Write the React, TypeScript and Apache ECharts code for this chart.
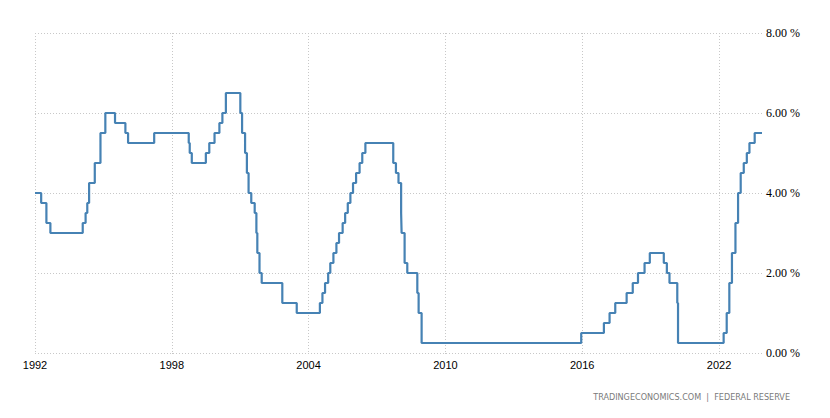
import React, { useEffect, useRef } from "react";
import * as echarts from "echarts";

// Federal funds target rate (upper bound), change dates and values (%)
const changeDates: string[] = [
  "1992-01-01", "1992-04-09", "1992-07-02", "1992-09-04",
  "1994-02-04", "1994-03-22", "1994-04-18", "1994-05-17", "1994-08-16", "1994-11-15",
  "1995-02-01", "1995-07-06", "1995-12-19", "1996-01-31", "1997-03-25",
  "1998-09-29", "1998-10-15", "1998-11-17",
  "1999-06-30", "1999-08-24", "1999-11-16",
  "2000-02-02", "2000-03-21", "2000-05-16",
  "2001-01-03", "2001-01-31", "2001-03-20", "2001-04-18", "2001-05-15", "2001-06-27",
  "2001-08-21", "2001-09-17", "2001-10-02", "2001-11-06", "2001-12-11",
  "2002-11-06", "2003-06-25",
  "2004-06-30", "2004-08-10", "2004-09-21", "2004-11-10", "2004-12-14",
  "2005-02-02", "2005-03-22", "2005-05-03", "2005-06-30", "2005-08-09", "2005-09-20",
  "2005-11-01", "2005-12-13",
  "2006-01-31", "2006-03-28", "2006-05-10", "2006-06-29",
  "2007-09-18", "2007-10-31", "2007-12-11",
  "2008-01-22", "2008-01-30", "2008-03-18", "2008-04-30", "2008-10-08", "2008-10-29", "2008-12-16",
  "2015-12-16", "2016-12-14",
  "2017-03-15", "2017-06-14", "2017-12-13",
  "2018-03-21", "2018-06-13", "2018-09-26", "2018-12-19",
  "2019-07-31", "2019-09-18", "2019-10-30",
  "2020-03-03", "2020-03-15",
  "2022-03-16", "2022-05-04", "2022-06-15", "2022-07-27", "2022-09-21", "2022-11-02", "2022-12-14",
  "2023-02-01", "2023-03-22", "2023-05-03", "2023-07-26", "2023-11-20",
];
const rateValues: number[] = [
  4.0, 3.75, 3.25, 3.0,
  3.25, 3.5, 3.75, 4.25, 4.75, 5.5,
  6.0, 5.75, 5.5, 5.25, 5.5,
  5.25, 5.0, 4.75,
  5.0, 5.25, 5.5,
  5.75, 6.0, 6.5,
  6.0, 5.5, 5.0, 4.5, 4.0, 3.75,
  3.5, 3.0, 2.5, 2.0, 1.75,
  1.25, 1.0,
  1.25, 1.5, 1.75, 2.0, 2.25,
  2.5, 2.75, 3.0, 3.25, 3.5, 3.75,
  4.0, 4.25,
  4.5, 4.75, 5.0, 5.25,
  4.75, 4.5, 4.25,
  3.5, 3.0, 2.25, 2.0, 1.5, 1.0, 0.25,
  0.5, 0.75,
  1.0, 1.25, 1.5,
  1.75, 2.0, 2.25, 2.5,
  2.25, 2.0, 1.75,
  1.25, 0.25,
  0.5, 1.0, 1.75, 2.5, 3.25, 4.0, 4.5,
  4.75, 5.0, 5.25, 5.5, 5.5,
];

const yTickValues: number[] = [0, 2, 4, 6, 8];
const xStartYear = 1992;
const xTickInterval = 6;
const sourceText = "TRADINGECONOMICS.COM  |  FEDERAL RESERVE";

function toDecimalYear(d: string): number {
  const [y, m, day] = d.split("-").map(Number);
  const start = Date.UTC(y, 0, 1);
  const end = Date.UTC(y + 1, 0, 1);
  const t = Date.UTC(y, m - 1, day);
  return y + (t - start) / (end - start);
}

export default function App() {
  const ref = useRef<HTMLDivElement>(null);
  useEffect(() => {
    if (!ref.current) return;
    const chart = echarts.init(ref.current, undefined, { renderer: "svg" });
    const data = changeDates.map((d, i) => [toDecimalYear(d), rateValues[i]]);
    const xMax = toDecimalYear(changeDates[changeDates.length - 1]);
    const gridStyle = { color: "#c8c8c8", type: [1, 2] as number[], width: 1 };
    chart.setOption({
      animation: false,
      backgroundColor: "#ffffff",
      grid: { left: 27, right: 60, top: 25, height: 320, containLabel: false },
      xAxis: {
        type: "value",
        min: xStartYear,
        max: xMax,
        interval: xTickInterval,
        axisLine: { show: false },
        axisTick: { show: true, length: 3, lineStyle: gridStyle },
        splitLine: { show: true, showMaxLine: false, lineStyle: gridStyle },
        axisLabel: {
          showMaxLabel: false,
          color: "#000",
          fontFamily: "Liberation Sans",
          fontSize: 11,
          margin: 6,
          formatter: (v: number) => String(Math.round(v)),
        },
      },
      yAxis: {
        type: "value",
        position: "right",
        min: yTickValues[0],
        max: yTickValues[yTickValues.length - 1],
        interval: 2,
        axisLine: { show: false },
        axisTick: { show: false },
        splitLine: { show: true, lineStyle: gridStyle },
        axisLabel: {
          color: "#000",
          fontFamily: "Liberation Sans Narrow",
          fontSize: 12,
          margin: 4,
          formatter: (v: number) => v.toFixed(2) + " %",
        },
      },
      series: [
        {
          type: "line",
          step: "end",
          data,
          symbol: "none",
          lineStyle: { color: "#4682b4", width: 2.2 },
        },
      ],
      graphic: [
        {
          type: "text",
          right: 32,
          top: 384,
          style: {
            text: sourceText,
            fill: "#7a7a7a",
            font: "9px 'DejaVu Sans Condensed'",
          },
        },
      ],
    });
    return () => chart.dispose();
  }, []);
  return <div ref={ref} style={{ width: 814, height: 402 }} />;
}
